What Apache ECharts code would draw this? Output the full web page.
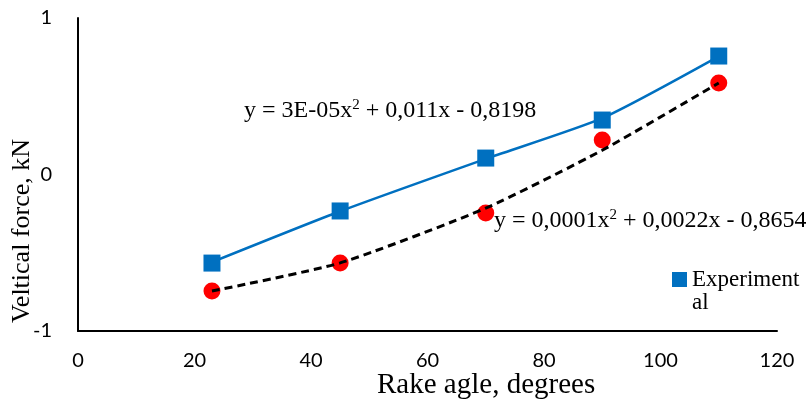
<!DOCTYPE html>
<html>
<head>
<meta charset="utf-8">
<script src="https://cdn.jsdelivr.net/npm/echarts@6/dist/echarts.min.js"></script>
<style>
  html, body { margin: 0; padding: 0; background: #fff; }
  #chart { width: 806px; height: 402px; }
</style>
</head>
<body>
<div id="chart"></div>
<script>
// rake angle (degrees)
const rakeAngles = [23, 45, 70, 90, 110];
// measured vertical force, kN
const experimental = [-0.566, -0.233, 0.105, 0.348, 0.757];
const secondSet = [-0.744, -0.566, -0.246, 0.22, 0.585];
// trendlines
const expTrend = [-0.56, -0.235, 0.1, 0.36, 0.755];
const secondTrend = [-0.745, -0.565, -0.215, 0.155, 0.585];
const xTicks = [0, 20, 40, 60, 80, 100, 120];
const yTicks = [-1, 0, 1];

const pairs = (xs, ys) => xs.map((x, i) => [x, ys[i]]);

const chart = echarts.init(document.getElementById('chart'));

const serif = '"Liberation Serif", "Times New Roman", serif';
const sans = 'Lato, "Open Sans", sans-serif';

const option = {
  backgroundColor: '#fff',
  animation: false,
  grid: {
    left: 78,
    right: 29,
    top: 18,
    bottom: 71
  },
  legend: {
    data: ['Experimental'],
    left: 667,
    top: 240,
    icon: 'rect',
    itemWidth: 15,
    itemHeight: 15,
    itemGap: 4,
    // empty first line keeps the icon level with "Experiment"
    formatter: () => '\nExperiment\nal',
    textStyle: {
      fontFamily: serif,
      fontSize: 23,
      color: '#000',
      lineHeight: 23
    }
  },
  xAxis: {
    type: 'value',
    min: xTicks[0],
    max: xTicks[xTicks.length - 1],
    interval: 20,
    splitLine: { show: false },
    axisTick: { show: false },
    axisLine: { onZero: false, lineStyle: { color: '#000', width: 2 } },
    axisLabel: {
      color: '#000',
      fontFamily: sans,
      fontSize: 20,
      margin: 20
    }
  },
  yAxis: {
    type: 'value',
    min: yTicks[0],
    max: yTicks[yTicks.length - 1],
    interval: 1,
    splitLine: { show: false },
    axisTick: { show: false },
    axisLine: { show: true, onZero: false, lineStyle: { color: '#000', width: 2 } },
    axisLabel: {
      color: '#000',
      fontFamily: sans,
      fontSize: 20,
      margin: 26
    }
  },
  graphic: [
    {
      type: 'text',
      left: 377,
      top: 371,
      style: {
        text: 'Rake agle, degrees',
        font: '29px ' + serif,
        fill: '#000'
      }
    },
    {
      type: 'text',
      x: 22,
      y: 231,
      rotation: Math.PI / 2,
      style: {
        text: 'Veltical force, kN',
        font: '26px ' + serif,
        fill: '#000',
        align: 'center',
        verticalAlign: 'middle'
      }
    },
    {
      type: 'text',
      left: 244,
      top: 98,
      style: {
        text: '{t|y = 3E-05x}{s|2}{t| + 0,011x - 0,8198}',
        rich: {
          t: { fontFamily: serif, fontSize: 24, fill: '#000' },
          s: { fontFamily: serif, fontSize: 15, fill: '#000', verticalAlign: 'top', padding: [0, 0, 10, 0] }
        }
      }
    },
    {
      type: 'text',
      left: 494,
      top: 208,
      style: {
        text: '{t|y = 0,0001x}{s|2}{t| + 0,0022x - 0,8654}',
        rich: {
          t: { fontFamily: serif, fontSize: 24, fill: '#000' },
          s: { fontFamily: serif, fontSize: 15, fill: '#000', verticalAlign: 'top', padding: [0, 0, 10, 0] }
        }
      }
    }
  ],
  series: [
    {
      name: 'Second',
      type: 'scatter',
      data: pairs(rakeAngles, secondSet),
      symbol: 'circle',
      symbolSize: 17,
      itemStyle: { color: '#ff0000', opacity: 1 },
      z: 2
    },
    {
      name: 'Second trend',
      type: 'line',
      data: pairs(rakeAngles, secondTrend),
      smooth: 0.2,
      showSymbol: false,
      lineStyle: { color: '#000', width: 3, type: [8, 5] },
      z: 3
    },
    {
      name: 'Experimental trend',
      type: 'line',
      data: pairs(rakeAngles, expTrend),
      smooth: 0.2,
      showSymbol: false,
      lineStyle: { color: '#0070c0', width: 2.5 },
      z: 4
    },
    {
      name: 'Experimental',
      type: 'scatter',
      data: pairs(rakeAngles, experimental),
      symbol: 'rect',
      symbolSize: 17,
      itemStyle: { color: '#0070c0', opacity: 1 },
      z: 5
    }
  ]
};

chart.setOption(option);
</script>
</body>
</html>
